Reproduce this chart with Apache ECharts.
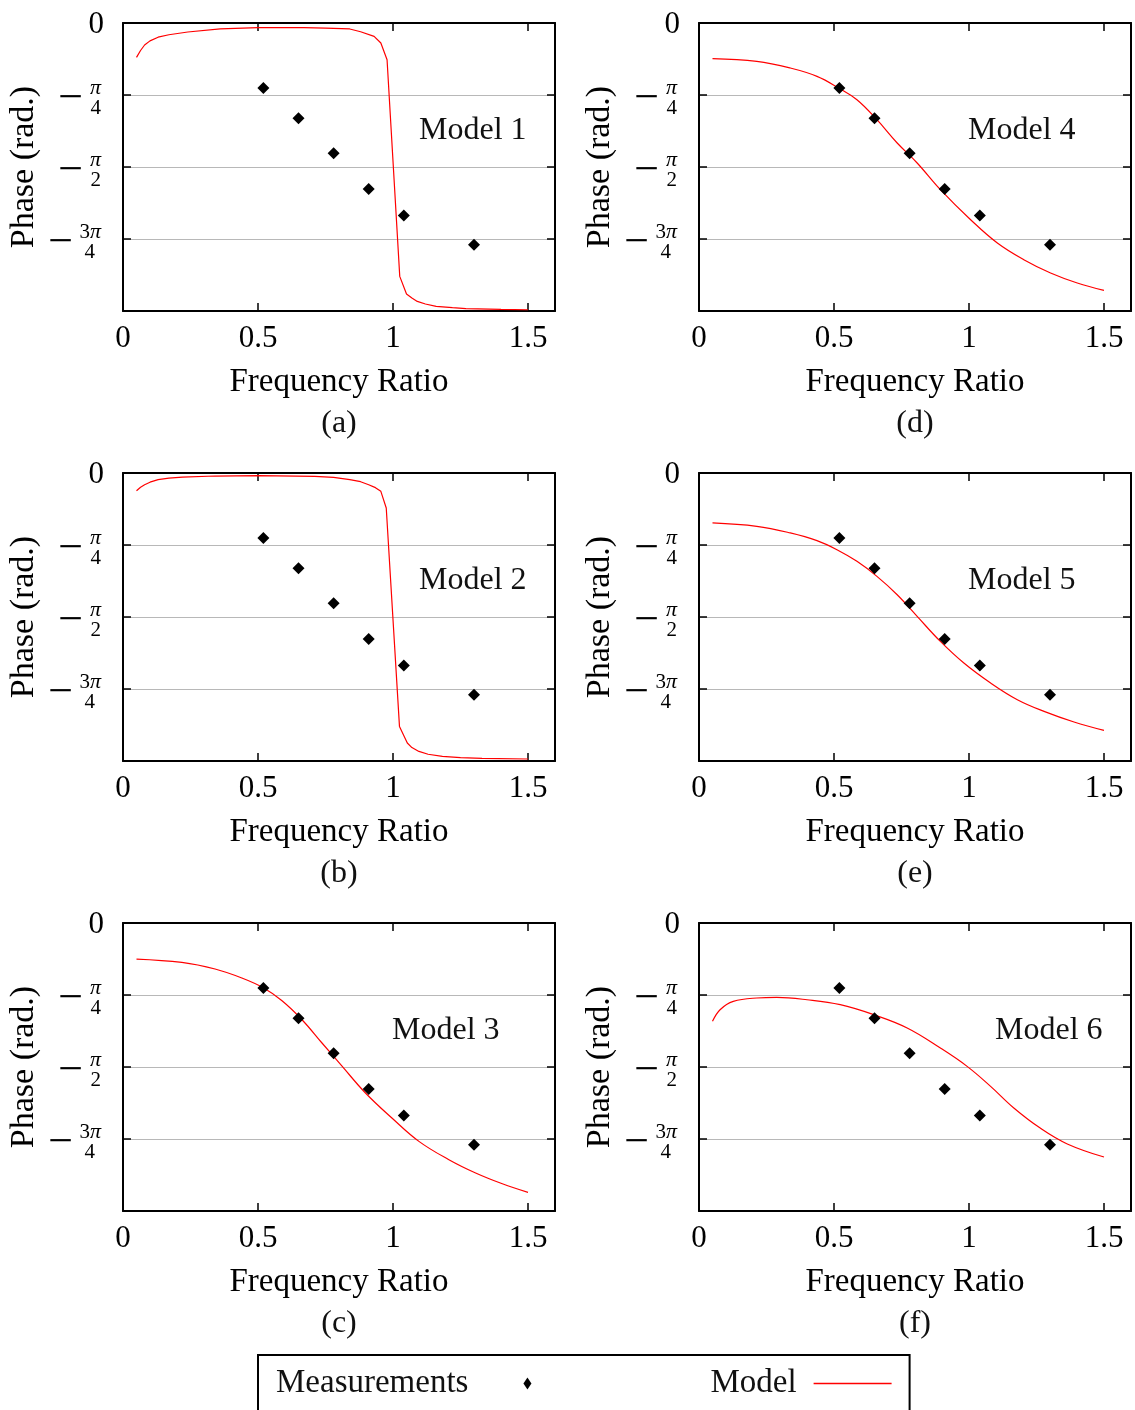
<!DOCTYPE html>
<html><head><meta charset="utf-8">
<script src="https://cdn.jsdelivr.net/npm/echarts@6/dist/echarts.min.js"></script>
<style>html,body{margin:0;padding:0;background:#fff}#c{width:1135px;height:1410px}</style>
</head><body><div id="c"></div>
<script>
// ---- data (phase in radians) ----
const measX = [0.52, 0.65, 0.78, 0.91, 1.04, 1.30];
const measY = [-0.71, -1.04, -1.42, -1.81, -2.10, -2.42];

const model1X = [0.05, 0.065, 0.08, 0.1, 0.13, 0.17, 0.24, 0.36, 0.5, 0.67, 0.75, 0.84, 0.88, 0.93, 0.955, 0.978, 1.025, 1.05, 1.07, 1.09, 1.12, 1.16, 1.22, 1.27, 1.4, 1.5];
const model1Y = [-0.375, -0.30, -0.24, -0.195, -0.155, -0.128, -0.098, -0.065, -0.051, -0.051, -0.055, -0.065, -0.095, -0.146, -0.218, -0.40, -2.764, -2.956, -3.0, -3.037, -3.065, -3.091, -3.105, -3.116, -3.124, -3.128];

const model2X = [0.05, 0.065, 0.08, 0.1, 0.13, 0.17, 0.22, 0.34, 0.5, 0.71, 0.78, 0.84, 0.88, 0.91, 0.935, 0.955, 0.975, 1.024, 1.053, 1.07, 1.096, 1.13, 1.183, 1.25, 1.33, 1.5];
const model2Y = [-0.193, -0.155, -0.128, -0.10, -0.073, -0.055, -0.044, -0.033, -0.029, -0.037, -0.048, -0.073, -0.095, -0.128, -0.16, -0.200, -0.382, -2.764, -2.945, -2.995, -3.037, -3.068, -3.091, -3.105, -3.113, -3.12];

const model3X = [0.05, 0.218, 0.341, 0.44, 0.521, 0.589, 0.663, 0.737, 0.812, 0.898, 0.997, 1.096, 1.207, 1.306, 1.405, 1.5];
const model3Y = [-0.393, -0.430, -0.502, -0.600, -0.709, -0.848, -1.055, -1.309, -1.564, -1.854, -2.130, -2.382, -2.582, -2.727, -2.845, -2.939];

const model4X = [0.05, 0.214, 0.338, 0.437, 0.517, 0.585, 0.659, 0.734, 0.808, 0.894, 1.006, 1.105, 1.203, 1.302, 1.401, 1.5];
const model4Y = [-0.389, -0.419, -0.491, -0.582, -0.709, -0.837, -1.055, -1.309, -1.527, -1.818, -2.146, -2.400, -2.582, -2.727, -2.836, -2.917];

const model5X = [0.05, 0.214, 0.338, 0.437, 0.511, 0.585, 0.659, 0.734, 0.808, 0.894, 0.981, 1.08, 1.179, 1.278, 1.389, 1.5];
const model5Y = [-0.545, -0.582, -0.654, -0.738, -0.837, -0.964, -1.128, -1.328, -1.564, -1.837, -2.073, -2.291, -2.473, -2.600, -2.716, -2.808];

const model6X = [0.05, 0.078, 0.127, 0.214, 0.288, 0.4, 0.523, 0.647, 0.771, 0.894, 0.993, 1.08, 1.166, 1.265, 1.364, 1.5];
const model6Y = [-1.073, -0.946, -0.855, -0.818, -0.812, -0.837, -0.891, -1.0, -1.145, -1.364, -1.564, -1.782, -2.018, -2.240, -2.410, -2.553];

const modelNames = ['Model 1', 'Model 2', 'Model 3', 'Model 4', 'Model 5', 'Model 6'];
const panelTags = ['(a)', '(b)', '(c)', '(d)', '(e)', '(f)'];
const yTickText = ['0', 'π/4', 'π/2', '3π/4'];
const xAxisTitle = 'Frequency Ratio';
const yAxisTitle = 'Phase (rad.)';
const legendNames = ['Measurements', 'Model'];

// ---- layout ----
const FONT = '"Liberation Serif", "Times New Roman", serif';
const modelsX = [model1X, model2X, model3X, model4X, model5X, model6X];
const modelsY = [model1Y, model2Y, model3Y, model4Y, model5Y, model6Y];
const smoothFlag = [false, false, 0.4, 0.4, 0.4, 0.4];
const colLeft = [123, 699];
const rowTop = [23, 473, 923];
const GW = 432, GH = 288;
const modelLabelPos = [[419, 131], [419, 581], [392, 1031], [968, 131], [968, 581], [995, 1031]];

const rich = {
  z: { fontFamily: FONT, fontSize: 31, color: '#000', lineHeight: 31 },
  n: { fontFamily: FONT, fontSize: 21, color: '#000', lineHeight: 21, padding: [1, 0, 0, 0] },
  p: { fontFamily: FONT, fontSize: 22, fontStyle: 'italic', color: '#000', lineHeight: 21, padding: [1, 3, 0, 0] },
  m1: { fontFamily: FONT, fontSize: 44, color: '#000', lineHeight: 2, padding: [0, 21, 0, 0] },
  m3: { fontFamily: FONT, fontSize: 44, color: '#000', lineHeight: 2, padding: [0, 31, 0, 0] },
  d: { fontFamily: FONT, fontSize: 21, color: '#000', lineHeight: 16, padding: [0, 3, 0, 0] },
  d3: { fontFamily: FONT, fontSize: 21, color: '#000', lineHeight: 16, padding: [0, 9, 0, 0] }
};
function yFmt(v) {
  const k = Math.round(-v * 4);
  if (k === 0) return '{z|' + yTickText[0] + '}';
  if (k < 1 || k > 3) return '';
  const parts = yTickText[k].split('/');
  const num = parts[0], den = parts[1];
  const coef = num.slice(0, -1);
  const top = coef ? '{n|' + coef + '}{p|π}' : '{p|π}';
  return top + '\n{' + (coef ? 'm3' : 'm1') + '|−}\n{' + (coef ? 'd3' : 'd') + '|' + den + '}';
}
function ticks() { return { show: true, inside: true, length: 8, lineStyle: { color: '#000', width: 1.5 } }; }
function aline() { return { show: true, onZero: false, lineStyle: { color: '#000', width: 2 } }; }

const grid = [], xAxis = [], yAxis = [], series = [], graphic = [];
for (let i = 0; i < 6; i++) {
  const col = Math.floor(i / 3), row = i % 3;
  grid.push({ left: colLeft[col], top: rowTop[row], width: GW, height: GH, outerBoundsMode: 'none' });
  xAxis.push({ gridIndex: i, type: 'value', min: 0, max: 1.6, interval: 0.5, position: 'bottom',
    axisLine: aline(), axisTick: ticks(), splitLine: { show: false },
    axisLabel: { margin: 12, fontFamily: FONT, fontSize: 31, color: '#000', showMaxLabel: false },
    name: xAxisTitle, nameLocation: 'middle', nameGap: 55, nameTextStyle: { fontFamily: FONT, fontSize: 33, color: '#000' } });
  xAxis.push({ gridIndex: i, type: 'value', min: 0, max: 1.6, interval: 0.5, position: 'top',
    axisLine: aline(), axisTick: ticks(), splitLine: { show: false }, axisLabel: { show: false } });
  yAxis.push({ gridIndex: i, type: 'value', min: -1, max: 0, interval: 0.25, position: 'left',
    axisLine: aline(), axisTick: ticks(),
    splitLine: { show: true, lineStyle: { color: '#b8b8b8', width: 1 } },
    axisLabel: { margin: 19, formatter: yFmt, rich: rich, padding: [4, 0, 0, 0] },
    name: yAxisTitle, nameLocation: 'middle', nameGap: 82, nameTextStyle: { fontFamily: FONT, fontSize: 34, color: '#000' } });
  yAxis.push({ gridIndex: i, type: 'value', min: -1, max: 0, interval: 0.25, position: 'right',
    axisLine: aline(), axisTick: ticks(), splitLine: { show: false }, axisLabel: { show: false } });

  const mx = modelsX[i], my = modelsY[i];
  series.push({ name: legendNames[1], type: 'line', xAxisIndex: 2 * i, yAxisIndex: 2 * i,
    data: mx.map((x, j) => [x, my[j] / Math.PI]), showSymbol: false, symbol: 'none', smooth: smoothFlag[i],
    lineStyle: { color: '#ff0000', width: 1.2 }, itemStyle: { color: '#ff0000' }, z: 2, silent: true });
  series.push({ name: legendNames[0], type: 'scatter', xAxisIndex: 2 * i, yAxisIndex: 2 * i,
    data: measX.map((x, j) => [x, measY[j] / Math.PI]), symbol: 'diamond', symbolSize: 12,
    itemStyle: { color: '#000', opacity: 1 }, z: 3, silent: true });

  graphic.push({ type: 'text', x: modelLabelPos[i][0], y: modelLabelPos[i][1],
    style: { text: modelNames[i], fontFamily: FONT, fontSize: 32, fill: '#111', align: 'left', verticalAlign: 'middle' } });
  graphic.push({ type: 'text', x: colLeft[col] + GW / 2, y: rowTop[row] + 401,
    style: { text: panelTags[i], fontFamily: FONT, fontSize: 32, fill: '#111', align: 'center', verticalAlign: 'middle' } });
}

const chart = echarts.init(document.getElementById('c'), null, { renderer: 'canvas' });
chart.setOption({
  animation: false,
  backgroundColor: '#fff',
  grid, xAxis, yAxis, series, graphic,
  legend: {
    data: [
      { name: legendNames[0], icon: 'path://M4,0 L8,6 L4,12 L0,6 Z' },
      { name: legendNames[1], icon: 'path://M0,0 L78,0 L78,1.3 L0,1.3 Z', textStyle: { padding: [0, 12, 0, 0] } }
    ],
    left: 258, top: 1355, orient: 'horizontal', align: 'right', symbolKeepAspect: true,
    itemWidth: 78, itemHeight: 12, itemGap: 179,
    padding: [12, 18, 20, 18], borderColor: '#000', borderWidth: 2, backgroundColor: '#fff',
    textStyle: { fontFamily: FONT, fontSize: 33, color: '#111', padding: [0, 15, 0, 0] },
    selectedMode: false
  }
});
</script>
</body></html>
